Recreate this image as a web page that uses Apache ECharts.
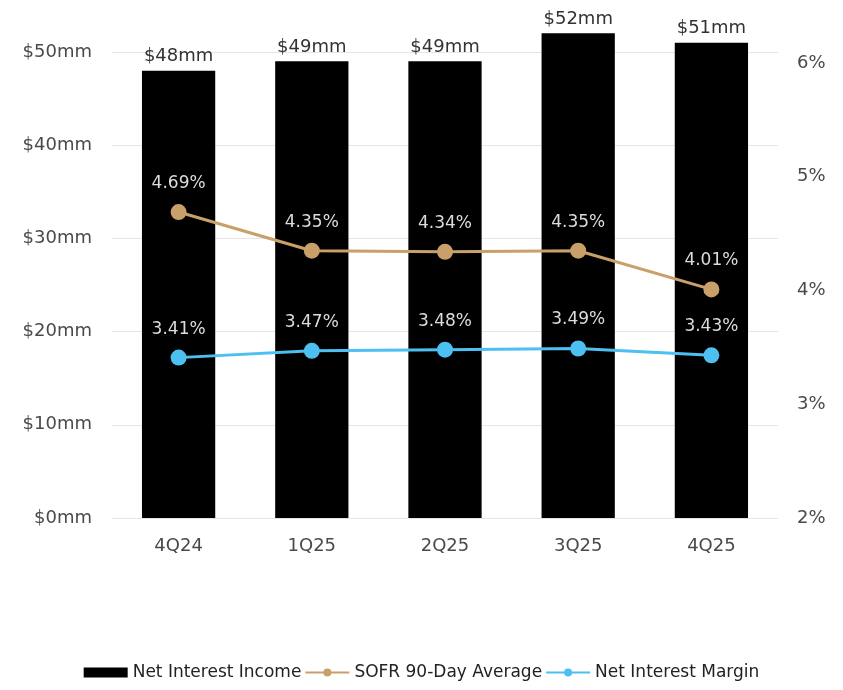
<!DOCTYPE html>
<html>
<head>
<meta charset="utf-8">
<script src="https://cdn.jsdelivr.net/npm/echarts@6/dist/echarts.min.js"></script>
<style>
  html, body { margin: 0; padding: 0; background: #ffffff; }
  #chart { width: 843px; height: 690px; }
</style>
</head>
<body>
<div id="chart"></div>
<script>
// Quarterly net interest income with SOFR and net interest margin overlays
const quarters = ['4Q24', '1Q25', '2Q25', '3Q25', '4Q25'];
const netInterestIncome = [48, 49, 49, 52, 51];          // $mm
const sofr90DayAverage = [4.69, 4.35, 4.34, 4.35, 4.01];   // %
const netInterestMargin = [3.41, 3.47, 3.48, 3.49, 3.43];  // %

const incomeTicks = [0, 10, 20, 30, 40, 50];
const rateTicks = [2, 3, 4, 5, 6];

const FONT = '"DejaVu Sans", "Open Sans", sans-serif';
const GOLD = '#C9A06A';
const SKY = '#4DBFF0';
const AXIS_TEXT = '#4a4a4a';

const chart = echarts.init(document.getElementById('chart'), null, { renderer: 'canvas' });

chart.setOption({
  animation: false,
  backgroundColor: '#ffffff',
  textStyle: { fontFamily: FONT },
  grid: { left: 112, right: 65, top: 52, bottom: 172, containLabel: false },
  legend: {
    bottom: 4,
    left: 'center',
    itemGap: 3,
    itemWidth: 44,
    itemHeight: 10,
    textStyle: { fontFamily: FONT, fontSize: 17, color: '#222' },
    data: [
      { name: 'Net Interest Income', icon: 'rect' },
      { name: 'SOFR 90-Day Average' },
      { name: 'Net Interest Margin' }
    ]
  },
  xAxis: {
    type: 'category',
    data: quarters,
    axisLine: { show: false },
    axisTick: { show: false },
    axisLabel: { color: AXIS_TEXT, fontSize: 18, margin: 19, fontFamily: FONT }
  },
  yAxis: [
    {
      type: 'value',
      min: incomeTicks[0],
      max: incomeTicks[incomeTicks.length - 1],
      interval: 10,
      axisLine: { show: false },
      axisTick: { show: false },
      axisLabel: {
        color: AXIS_TEXT, fontSize: 18, margin: 20, fontFamily: FONT,
        formatter: v => '$' + v + 'mm'
      },
      splitLine: { show: true, lineStyle: { color: '#e6e6e6', width: 1 } }
    },
    {
      type: 'value',
      min: rateTicks[0],
      max: 6.097,
      interval: 1,
      position: 'right',
      axisLine: { show: false },
      axisTick: { show: false },
      axisLabel: {
        color: AXIS_TEXT, fontSize: 18, margin: 19, fontFamily: FONT,
        showMaxLabel: false,
        formatter: v => (rateTicks.indexOf(v) >= 0 ? v + '%' : '')
      },
      splitLine: { show: false }
    }
  ],
  series: [
    {
      name: 'Net Interest Income',
      type: 'bar',
      yAxisIndex: 0,
      data: netInterestIncome,
      barWidth: '55%',
      clip: false,
      itemStyle: { color: '#000000' },
      label: {
        show: true,
        position: 'top',
        distance: 5,
        color: '#333',
        fontSize: 18,
        fontFamily: FONT,
        formatter: p => '$' + p.value + 'mm'
      },
      z: 1
    },
    {
      name: 'SOFR 90-Day Average',
      type: 'line',
      yAxisIndex: 1,
      data: sofr90DayAverage,
      symbol: 'circle',
      symbolSize: 16,
      lineStyle: { color: GOLD, width: 3 },
      itemStyle: { color: GOLD },
      label: {
        show: true,
        position: 'top',
        distance: 12,
        color: '#dcdcdc',
        fontSize: 17,
        fontFamily: FONT,
        formatter: p => p.value.toFixed(2) + '%'
      },
      z: 3
    },
    {
      name: 'Net Interest Margin',
      type: 'line',
      yAxisIndex: 1,
      data: netInterestMargin,
      symbol: 'circle',
      symbolSize: 16,
      lineStyle: { color: SKY, width: 3 },
      itemStyle: { color: SKY },
      label: {
        show: true,
        position: 'top',
        distance: 12,
        color: '#dcdcdc',
        fontSize: 17,
        fontFamily: FONT,
        formatter: p => p.value.toFixed(2) + '%'
      },
      z: 3
    }
  ]
});
</script>
</body>
</html>
